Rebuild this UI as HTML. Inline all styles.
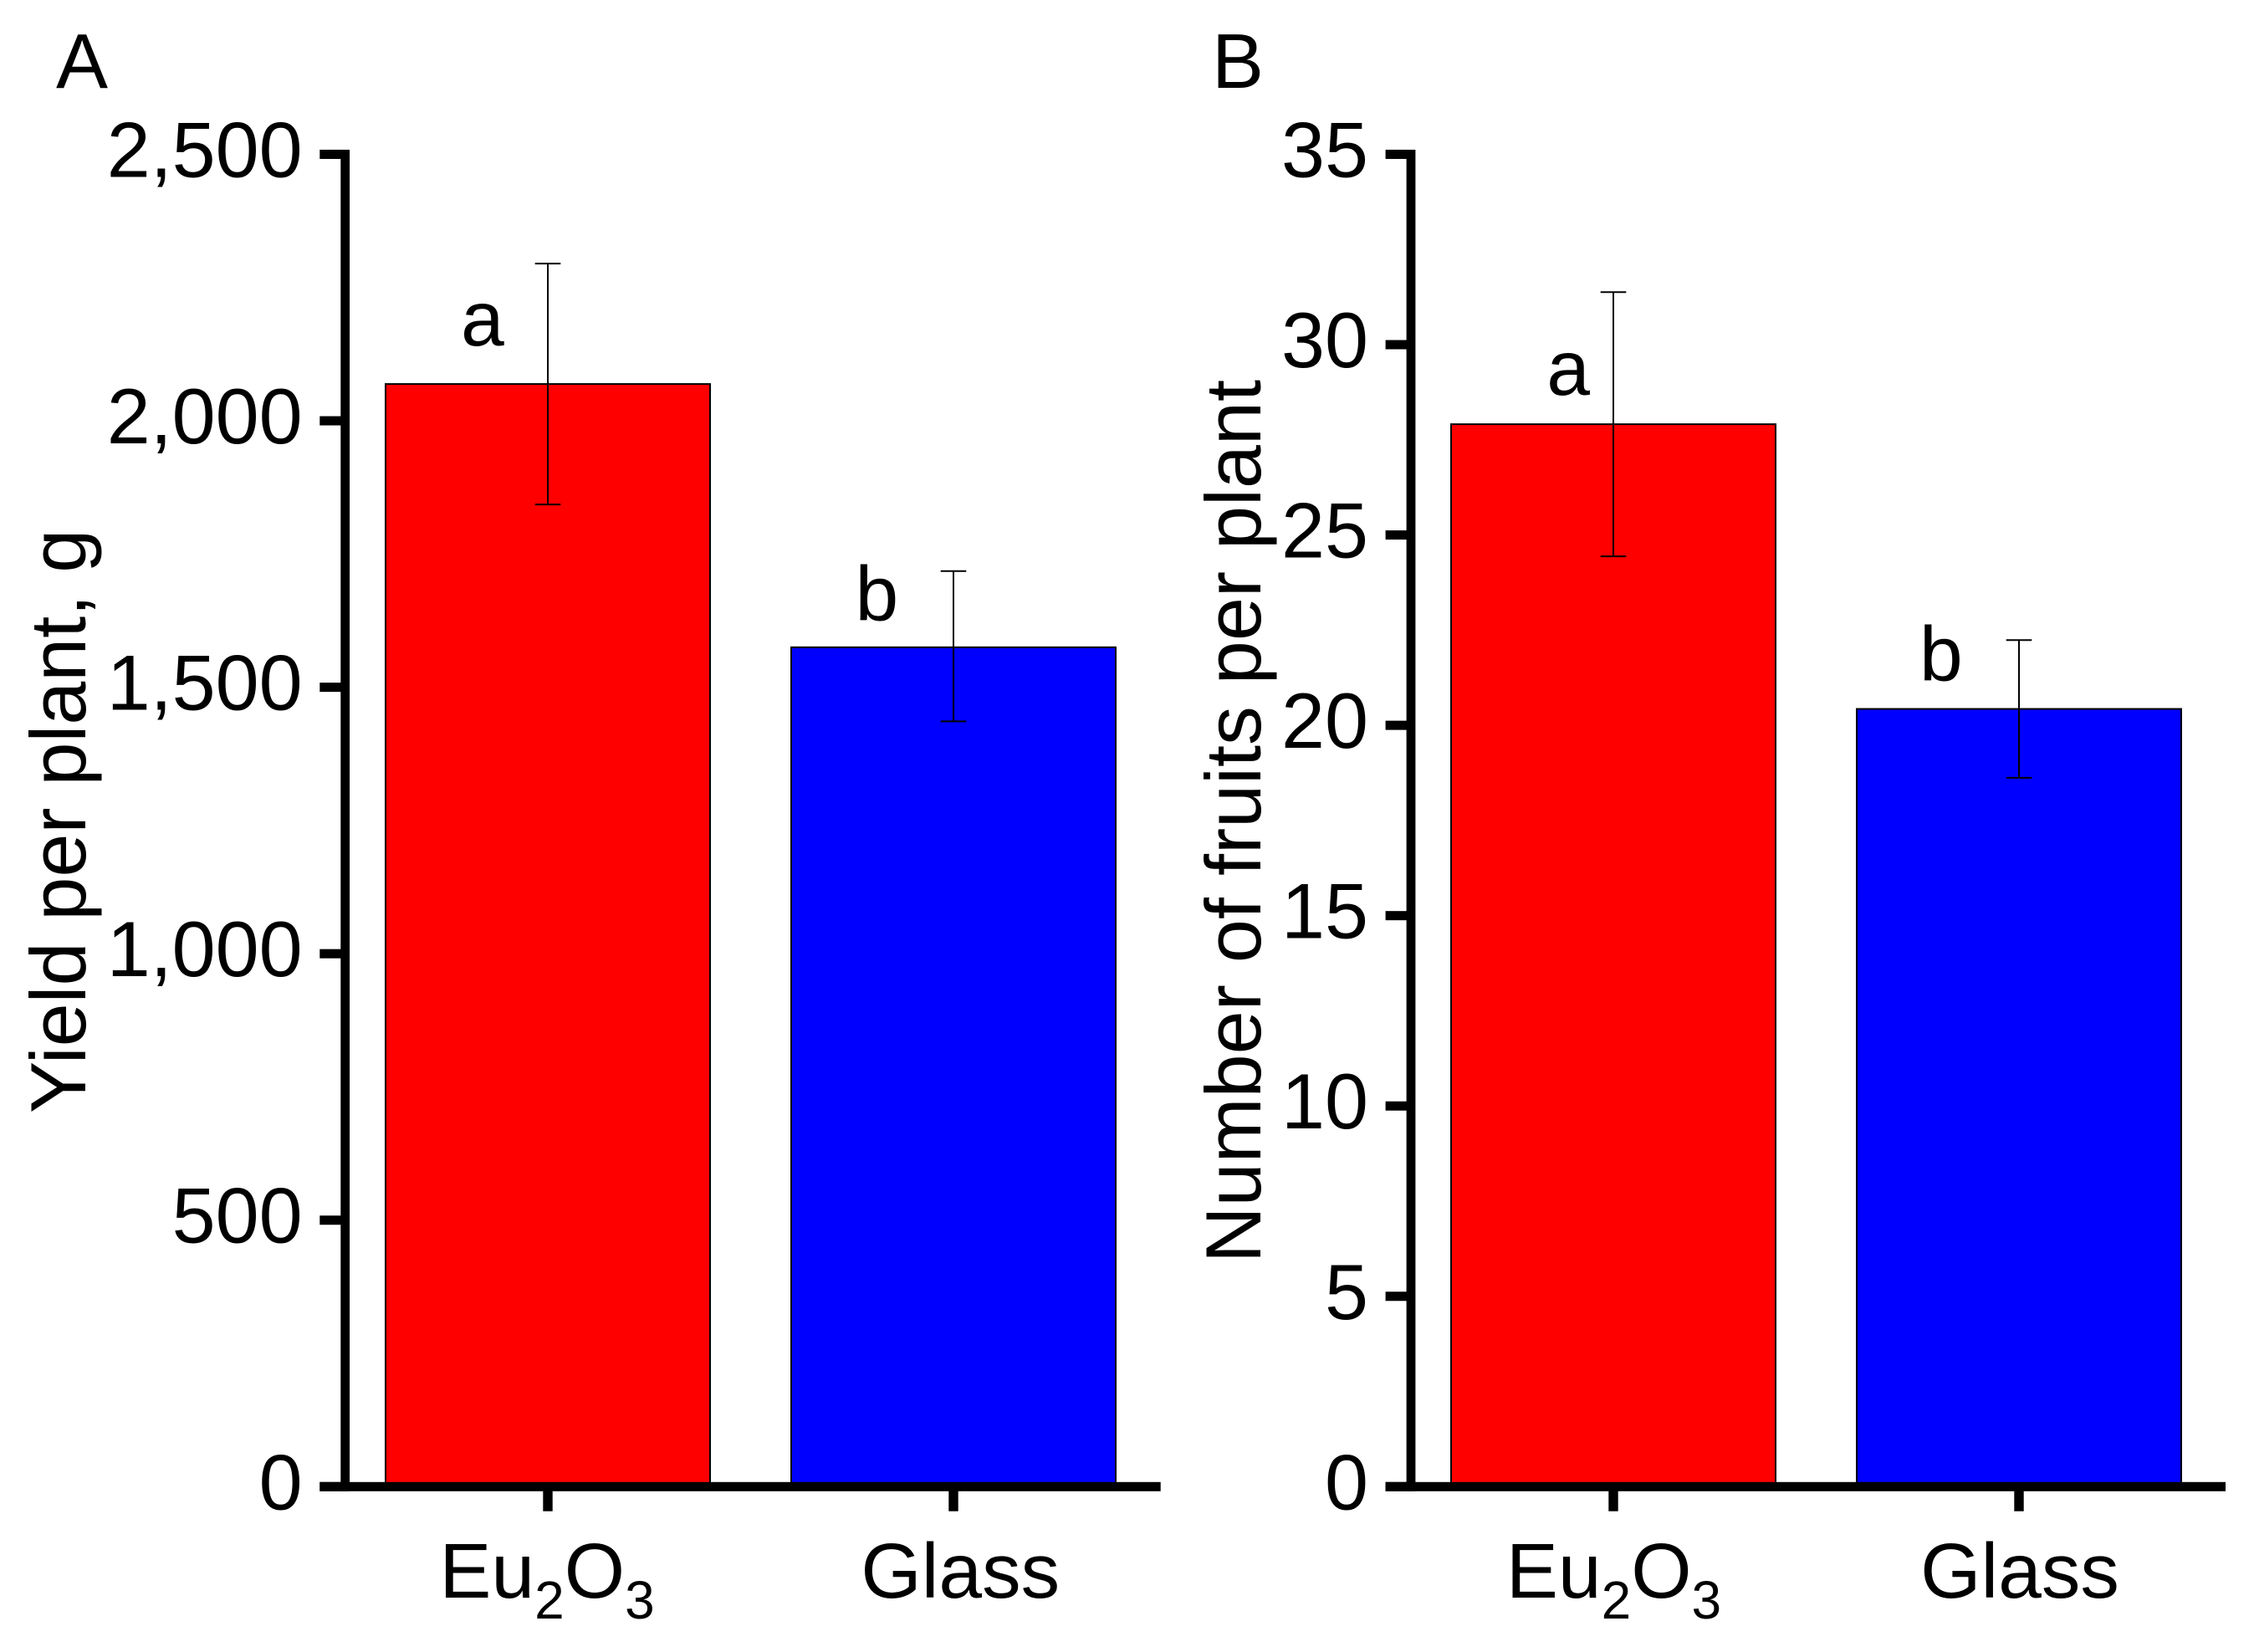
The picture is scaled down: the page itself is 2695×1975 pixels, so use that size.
<!DOCTYPE html>
<html lang="en">
<head>
<meta charset="utf-8">
<title>Yield and fruit number per plant</title>
<style>
html,body{margin:0;padding:0;background:#fff;}
svg{display:block;}
text{font-family:"Liberation Sans",Arial,sans-serif;fill:#000;}
</style>
</head>
<body>
<svg id="figure" xmlns="http://www.w3.org/2000/svg" width="2695" height="1975" viewBox="0 0 2695 1975">
  <rect x="0" y="0" width="2695" height="1975" fill="#ffffff"/>
  <text x="67" y="105" font-size="93">A</text>
  <text x="1449" y="105" font-size="93">B</text>
  <text transform="translate(102,1331) rotate(-90)" font-size="93.5">Yield per plant, g</text>
  <text transform="translate(1507,1510) rotate(-90)" font-size="93.6">Number of fruits per plant</text>
</svg>
<script>
const categories = ['Eu2O3', 'Glass'];
const barColors = ['#ff0000', '#0000ff'];
const significanceLetters = ['a', 'b'];

const yieldTickValues = [0, 500, 1000, 1500, 2000, 2500];
const yieldTickLabels = ['0', '500', '1,000', '1,500', '2,000', '2,500'];
const yieldValues = [2069, 1575];
const yieldErrorHigh = [2295, 1718];
const yieldErrorLow = [1843, 1436];
const yieldLetterValues = [2141, 1625];
const yieldLetterShift = [-0.161, -0.189];
const yieldCategoryLabelShift = [-0.002, 0.017];

const fruitTickValues = [0, 5, 10, 15, 20, 25, 30, 35];
const fruitTickLabels = ['0', '5', '10', '15', '20', '25', '30', '35'];
const fruitValues = [27.91, 20.43];
const fruitErrorHigh = [31.38, 22.24];
const fruitErrorLow = [24.44, 18.62];
const fruitLetterValues = [28.68, 21.17];
const fruitLetterShift = [-0.111, -0.192];
const fruitCategoryLabelShift = [0.001, 0.002];

const SVG_NS = 'http://www.w3.org/2000/svg';
const svg = document.getElementById('figure');
const PLOT_TOP = 184.5;
const PLOT_BOTTOM = 1777.3;
const BAR_WIDTH = 388;
const CATEGORY_STEP = 485;
const FONT_SIZE = 93;
const TICK_FONT_SIZE = 93.5;

function node(tag, attrs, name, parent) {
  const el = document.createElementNS(SVG_NS, tag);
  for (const key in attrs) el.setAttribute(key, attrs[key]);
  
  
  (parent || svg).appendChild(el);
  return el;
}

function drawPanel(p) {
  const y = v => PLOT_BOTTOM - (v / p.max) * (PLOT_BOTTOM - PLOT_TOP);
  const x = i => p.firstCenter + i * CATEGORY_STEP;
  const g = node('g', {}, p.id + '-plot');

  p.values.forEach((value, i) => {
    const key = p.id + '-' + categories[i].toLowerCase();
    const top = y(value);
    node('rect', {
      x: x(i) - BAR_WIDTH / 2, y: top, width: BAR_WIDTH, height: PLOT_BOTTOM - top,
      fill: barColors[i], stroke: '#000', 'stroke-width': 2
    }, key + '-bar', g);
    const hi = y(p.errHigh[i]);
    const lo = y(p.errLow[i]);
    node('line', { x1: x(i), x2: x(i), y1: hi, y2: lo, stroke: '#000', 'stroke-width': 2 }, key + '-error-stem', g);
    node('line', { x1: x(i) - 15.3, x2: x(i) + 15.3, y1: hi, y2: hi, stroke: '#000', 'stroke-width': 2 }, key + '-error-cap-high', g);
    node('line', { x1: x(i) - 15.3, x2: x(i) + 15.3, y1: lo, y2: lo, stroke: '#000', 'stroke-width': 2 }, key + '-error-cap-low', g);
    const letter = node('text', {
      x: x(i) + p.letterShift[i] * CATEGORY_STEP, y: y(p.letterValues[i]),
      'font-size': FONT_SIZE, 'text-anchor': 'middle'
    }, key + '-significance-letter', g);
    letter.textContent = significanceLetters[i];

    node('rect', { x: x(i) - 5.7, y: PLOT_BOTTOM, width: 11.4, height: 29.4, fill: '#000' }, key + '-x-tick', g);
    const label = node('text', {
      x: x(i) + p.catShift[i] * CATEGORY_STEP, y: 1910,
      'font-size': FONT_SIZE, 'text-anchor': 'middle'
    }, key + '-x-tick-label', g);
    let lowered = false;
    categories[i].split('').forEach(ch => {
      const isSub = /[0-9]/.test(ch);
      const span = document.createElementNS(SVG_NS, 'tspan');
      span.textContent = ch;
      if (isSub) {
        span.setAttribute('font-size', '64');
        span.setAttribute('dy', lowered ? '0' : '25');
        lowered = true;
      } else if (lowered) {
        span.setAttribute('dy', '-25');
        lowered = false;
      }
      label.appendChild(span);
    });
  });

  p.ticks.forEach((value, i) => {
    node('rect', { x: p.axisX - 30.4, y: y(value) - 5.5, width: 30.4, height: 11, fill: '#000' }, p.id + '-y-tick-' + p.tickLabels[i], g);
    const t = node('text', {
      x: p.axisX - 51, y: y(value) + 27, 'font-size': TICK_FONT_SIZE, 'text-anchor': 'end'
    }, p.id + '-y-tick-label-' + p.tickLabels[i], g);
    t.textContent = p.tickLabels[i];
  });

  node('rect', { x: p.axisX - 5.4, y: PLOT_TOP - 5.5, width: 10.8, height: PLOT_BOTTOM - PLOT_TOP + 11, fill: '#000' }, p.id + '-y-axis', g);
  node('rect', { x: p.axisX - 30.4, y: PLOT_BOTTOM - 5.5, width: p.axisEnd - p.axisX + 30.4, height: 11, fill: '#000' }, p.id + '-x-axis', g);
}

drawPanel({
  id: 'panel-a', axisX: 412.7, axisEnd: 1387.7, firstCenter: 655, max: 2500,
  values: yieldValues, errHigh: yieldErrorHigh, errLow: yieldErrorLow,
  letterValues: yieldLetterValues, letterShift: yieldLetterShift, catShift: yieldCategoryLabelShift,
  ticks: yieldTickValues, tickLabels: yieldTickLabels
});
drawPanel({
  id: 'panel-b', axisX: 1687, axisEnd: 2661, firstCenter: 1929, max: 35,
  values: fruitValues, errHigh: fruitErrorHigh, errLow: fruitErrorLow,
  letterValues: fruitLetterValues, letterShift: fruitLetterShift, catShift: fruitCategoryLabelShift,
  ticks: fruitTickValues, tickLabels: fruitTickLabels
});
</script>
</body>
</html>
